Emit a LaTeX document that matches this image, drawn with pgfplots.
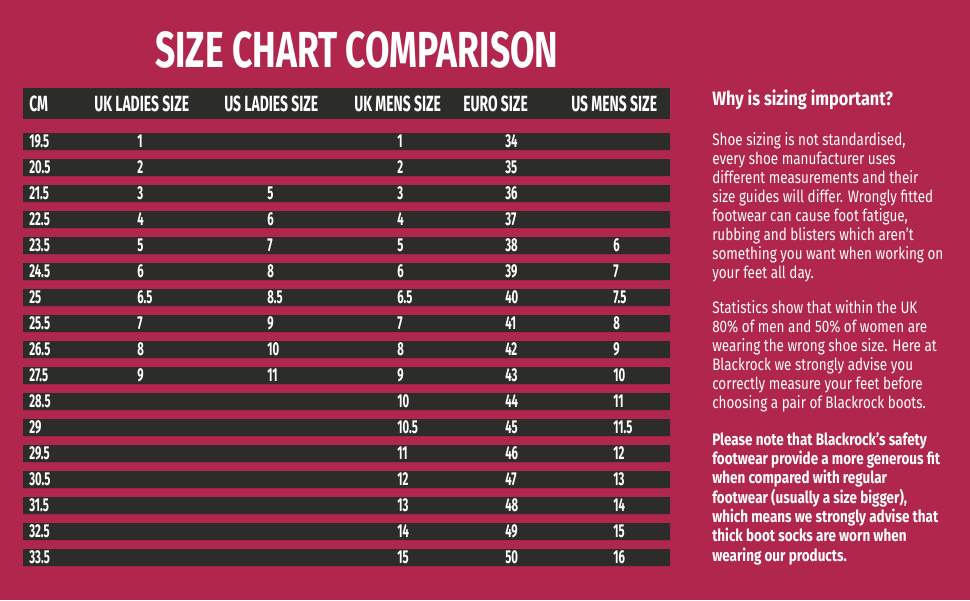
\documentclass[border=0pt]{standalone}
\usepackage{pgfplots}
\pgfplotsset{compat=1.18}
\usepackage{pgfplotstable}
\usepackage{fontspec}
\setmainfont{Fira Sans}
\newfontfamily\titlefont[FakeStretch=0.70]{Fira Sans}
\newfontfamily\headfont[FakeStretch=0.632]{Fira Sans}
\newfontfamily\dispfont[FakeStretch=0.607]{Fira Sans}
\newfontfamily\bodyfont[FakeStretch=0.808]{Fira Sans}
\newfontfamily\qfont[FakeStretch=0.843]{Fira Sans}
\definecolor{bg}{RGB}{176,38,76}
\definecolor{dark}{RGB}{44,44,42}

\pgfplotstableread{
y cm ukl usl ukm eu usm
141.5 19.5 1 {} 1 34 {}
167.5 20.5 2 {} 2 35 {}
193.5 21.5 3 5 3 36 {}
219.5 22.5 4 6 4 37 {}
245.5 23.5 5 7 5 38 6
271.5 24.5 6 8 6 39 7
297.5 25 6.5 8.5 6.5 40 7.5
323.5 25.5 7 9 7 41 8
349.5 26.5 8 10 8 42 9
375.5 27.5 9 11 9 43 10
401.5 28.5 {} {} 10 44 11
427.5 29 {} {} 10.5 45 11.5
453.5 29.5 {} {} 11 46 12
479.5 30.5 {} {} 12 47 13
505.5 31.5 {} {} 13 48 14
531.5 32.5 {} {} 14 49 15
557.5 33.5 {} {} 15 50 16
}\sizes

\pgfplotsset{
  celltext/.style={only marks, mark=none, nodes near coords, point meta=explicit symbolic,
    every node near coord/.append style={anchor=west, inner sep=0pt, text=white,
      font=\dispfont\bfseries\fontsize{14}{15}\selectfont}},
}

\begin{document}
\begin{tikzpicture}
\begin{axis}[
  width=727.5pt, height=450pt, scale only axis,
  xmin=-23, xmax=947, ymin=0, ymax=600, y dir=reverse,
  hide axis,
]
% background
\addplot[fill=bg, draw=none] coordinates {(-23,0) (947,0) (947,600) (-23,600)} -- cycle;
% header bar
\addplot[xbar, bar width=31, fill=dark, draw=none] coordinates {(647,103.5)};
% row bars
\addplot[xbar, bar width=17, fill=dark, draw=none] table[x expr=647, y=y] {\sizes};
% cell texts
\addplot[celltext] table[x expr=6, y=y, meta=cm] {\sizes};
\addplot[celltext] table[x expr=114, y=y, meta=ukl] {\sizes};
\addplot[celltext] table[x expr=244, y=y, meta=usl] {\sizes};
\addplot[celltext] table[x expr=374, y=y, meta=ukm] {\sizes};
\addplot[celltext] table[x expr=482, y=y, meta=eu] {\sizes};
\addplot[celltext] table[x expr=590, y=y, meta=usm] {\sizes};
% title
\node[anchor=west, inner sep=0pt, text=white, font=\titlefont\bfseries\fontsize{38}{38}\selectfont]
  at (axis cs:132,50) {SIZE CHART COMPARISON};
% header texts
\begin{scope}[every node/.style={anchor=west, inner sep=0pt, text=white, font=\headfont\bfseries\fontsize{16.5}{17}\selectfont}]
\node at (axis cs:6,104) {CM};
\node at (axis cs:71,104) {UK LADIES SIZE};
\node at (axis cs:201,104) {US LADIES SIZE};
\node at (axis cs:331,104) {UK MENS SIZE};
\node at (axis cs:440,104) {EURO SIZE};
\node at (axis cs:548,104) {US MENS SIZE};
\end{scope}
% right-hand text
\node[anchor=base west, inner sep=0pt, text=white, font=\qfont\bfseries\fontsize{14.5}{16}\selectfont]
  at (axis cs:689,105) {Why is sizing important?};
\node[anchor=base west, inner sep=0pt, text=white, font=\bodyfont\fontsize{12.5}{14.25}\selectfont]
  at (axis cs:689,145) {\begin{tabular}[t]{@{}l@{}}
Shoe sizing is not standardised,\\
every shoe manufacturer uses\\
different measurements and their\\
size guides will differ. Wrongly fitted\\
footwear can cause foot fatigue,\\
rubbing and blisters which aren’t\\
something you want when working on\\
your feet all day.
\end{tabular}};
\node[anchor=base west, inner sep=0pt, text=white, font=\bodyfont\fontsize{12.5}{14.25}\selectfont]
  at (axis cs:689,313) {\begin{tabular}[t]{@{}l@{}}
Statistics show that within the UK\\
80\% of men and 50\% of women are\\
wearing the wrong shoe size. Here at\\
Blackrock we strongly advise you\\
correctly measure your feet before\\
choosing a pair of Blackrock boots.
\end{tabular}};
\node[anchor=base west, inner sep=0pt, text=white, font=\bodyfont\bfseries\fontsize{12.5}{14.25}\selectfont]
  at (axis cs:689,445) {\begin{tabular}[t]{@{}l@{}}
Please note that Blackrock’s safety\\
footwear provide a more generous fit\\
when compared with regular\\
footwear (usually a size bigger),\\
which means we strongly advise that\\
thick boot socks are worn when\\
wearing our products.
\end{tabular}};
\end{axis}
\end{tikzpicture}
\end{document}
